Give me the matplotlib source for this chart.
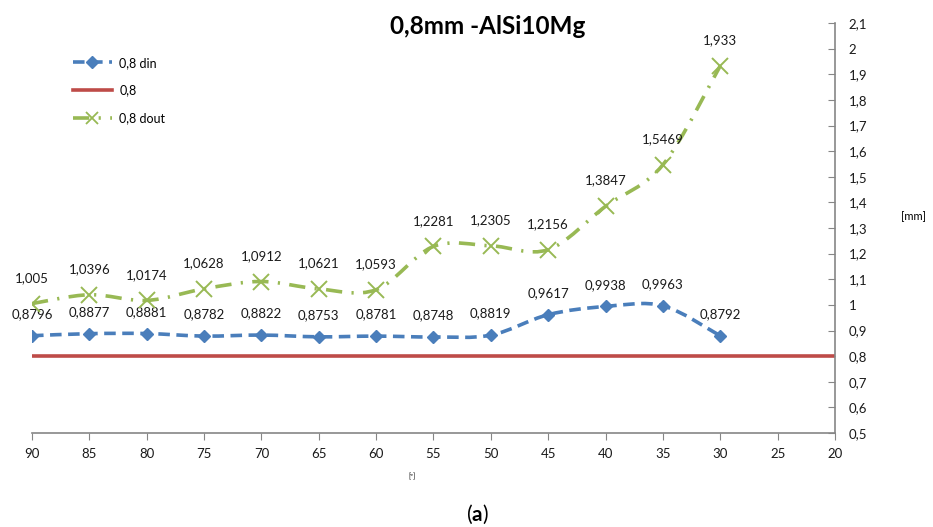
import matplotlib
matplotlib.use("Agg")
import matplotlib.pyplot as plt
from matplotlib.path import Path
from matplotlib.patches import PathPatch
from matplotlib.lines import Line2D
import numpy as np

plt.rcParams['font.family'] = ['Lato', 'DejaVu Sans']
plt.rcParams['mathtext.fontset'] = 'custom'
plt.rcParams['mathtext.bf'] = 'Lato:bold'
plt.rcParams['mathtext.rm'] = 'Lato'

# Angle [º] and measured diameters [mm]
angles = [90, 85, 80, 75, 70, 65, 60, 55, 50, 45, 40, 35, 30]
d_in = [0.8796, 0.8877, 0.8881, 0.8782, 0.8822, 0.8753, 0.8781,
        0.8748, 0.8819, 0.9617, 0.9938, 0.9963, 0.8792]
d_out = [1.005, 1.0396, 1.0174, 1.0628, 1.0912, 1.0621, 1.0593,
         1.2281, 1.2305, 1.2156, 1.3847, 1.5469, 1.933]
nominal_x = [90, 85, 80, 75, 70, 65, 60, 55, 50, 45, 40, 35, 30, 25, 20]
nominal = [0.8] * len(nominal_x)

x_ticks = [90, 85, 80, 75, 70, 65, 60, 55, 50, 45, 40, 35, 30, 25, 20]
y_ticks = [0.5, 0.6, 0.7, 0.8, 0.9, 1.0, 1.1, 1.2, 1.3, 1.4, 1.5, 1.6, 1.7,
           1.8, 1.9, 2.0, 2.1]

BLUE = '#4A7EBB'
RED = '#BE4B48'
GREEN = '#98B954'
AXIS = '#868686'
TEXT = '#1a1a1a'

DASH_IN = (0, (3.2, 1.8))
DASH_OUT = (0, (4.5, 2.6, 0.6, 2.6))


def fmt(v):
    return f"{v:g}".replace('.', ',')


def smooth_path(xs, ys):
    """Cardinal (Catmull-Rom) spline through the points as cubic Beziers."""
    p = np.column_stack([xs, ys]).astype(float)
    n = len(p)
    verts = [p[0]]
    codes = [Path.MOVETO]
    for i in range(n - 1):
        p0 = p[i - 1] if i > 0 else p[i]
        p1 = p[i]
        p2 = p[i + 1]
        p3 = p[i + 2] if i + 2 < n else p[i + 1]
        c1 = p1 + (p2 - p0) / 6.0
        c2 = p2 - (p3 - p1) / 6.0
        verts += [c1, c2, p2]
        codes += [Path.CURVE4] * 3
    return Path(verts, codes)


fig = plt.figure(figsize=(9.33, 5.27), dpi=100)
ax = fig.add_axes([32 / 933, 1 - 433 / 527, (835 - 32) / 933, (433 - 23) / 527])

ax.set_xlim(90, 20)
ax.set_ylim(0.5, 2.1)

# nominal 0.8 line
ax.plot(nominal_x, nominal, color=RED, lw=2.6, solid_capstyle='butt', zorder=2)

# smoothed measurement curves
ax.add_patch(PathPatch(smooth_path(angles, d_in), facecolor='none',
                       edgecolor=BLUE, lw=2.6, linestyle=DASH_IN, zorder=3))
ax.add_patch(PathPatch(smooth_path(angles, d_out), facecolor='none',
                       edgecolor=GREEN, lw=2.6, linestyle=DASH_OUT, zorder=3))

ax.plot(angles, d_in, linestyle='none', marker='D', markersize=6.5,
        color=BLUE, zorder=4)
ax.plot(angles, d_out, linestyle='none', marker='x', markersize=11,
        markeredgewidth=1.4, color=GREEN, zorder=4)

for x, v in zip(angles, d_in):
    ax.annotate(fmt(v), (x, v), xytext=(0, 15.5), textcoords='offset points',
                ha='center', va='center', fontsize=9.5, color=TEXT)
for x, v in zip(angles, d_out):
    ax.annotate(fmt(v), (x, v), xytext=(0, 18.5), textcoords='offset points',
                ha='center', va='center', fontsize=9.5, color=TEXT)

# axes styling
for s in ('top', 'left'):
    ax.spines[s].set_visible(False)
for s in ('bottom', 'right'):
    ax.spines[s].set_color(AXIS)
    ax.spines[s].set_linewidth(1.2)

ax.set_xticks(x_ticks)
ax.set_xticklabels([str(t) for t in x_ticks])
ax.tick_params(axis='x', direction='out', length=5, color=AXIS,
               labelsize=9.5, labelcolor=TEXT, pad=6)

ax.yaxis.tick_right()
ax.set_yticks(y_ticks)
ax.set_yticklabels([fmt(t) for t in y_ticks])
ax.tick_params(axis='y', direction='in', length=5, color=AXIS,
               labelsize=9.5, labelcolor=TEXT, pad=10)

# legend
handles = [
    Line2D([], [], color=BLUE, lw=2.6, linestyle=DASH_IN,
           marker='D', markersize=6),
    Line2D([], [], color=RED, lw=2.6),
    Line2D([], [], color=GREEN, lw=2.6, linestyle=DASH_OUT,
           marker='x', markersize=9, markeredgewidth=1.3),
]
ax.legend(handles, ['0,8 din', '0,8', '0,8 dout'], loc='upper left',
          bbox_to_anchor=(0.037, 0.945), frameon=False, fontsize=9,
          handlelength=3.1, labelspacing=1.25, handletextpad=0.6)

fig.text(488 / 933, 1 - 27 / 527, '0,8mm -AlSi10Mg', ha='center',
         va='center', fontsize=17.5, fontweight='bold')
fig.text(913 / 933, 1 - 217 / 527, '[mm]', ha='center', va='center',
         fontsize=8)
fig.text(412 / 933, 1 - 477 / 527, '[º]', ha='center', va='center',
         fontsize=5)
fig.text(477 / 933, 1 - 514 / 527, r'($\mathbf{a}$)', ha='center',
         va='center', fontsize=15)

fig.savefig('out.png', dpi=100)
